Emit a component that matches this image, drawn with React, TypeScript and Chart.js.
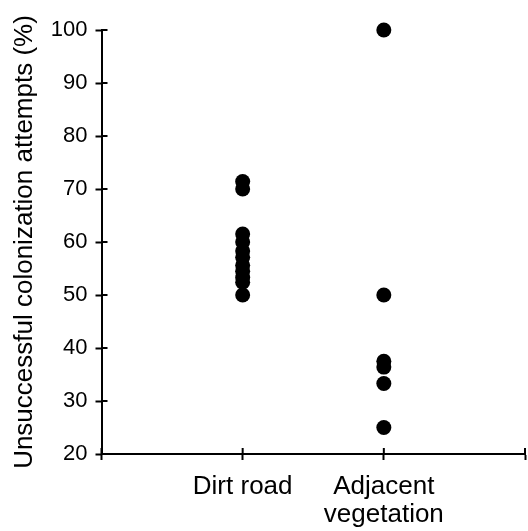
import React, { useEffect, useRef } from "react";
import { Chart, registerables } from "chart.js";

Chart.register(...registerables);

const categories: (string | string[])[] = ["", "Dirt road", ["Adjacent", "vegetation"], ""];
const dirtRoad = [71.4, 70, 61.5, 60, 58.3, 57.1, 55.6, 54.5, 53.3, 52.4, 50];
const adjacentVegetation = [100, 50, 37.5, 36.4, 33.3, 25];
const yTicks = [20, 30, 40, 50, 60, 70, 80, 90, 100];
const yTitle = "Unsuccessful colonization attempts (%)";

const FONT = "'Liberation Sans', Arial, Helvetica, sans-serif";

const innerTicks = {
  id: "innerTicks",
  afterDraw(chart: any) {
    const { ctx, chartArea, scales } = chart;
    ctx.save();
    ctx.strokeStyle = "#000";
    ctx.lineWidth = 2;
    ctx.beginPath();
    scales.y.ticks.forEach((t: any) => {
      const y = scales.y.getPixelForValue(t.value);
      ctx.moveTo(chartArea.left, y);
      ctx.lineTo(chartArea.left + 6, y);
    });
    scales.x.ticks.forEach((t: any) => {
      const x = scales.x.getPixelForValue(t.value);
      ctx.moveTo(x, chartArea.bottom);
      ctx.lineTo(x, chartArea.bottom - 6);
    });
    ctx.stroke();
    ctx.restore();
  },
};

export default function App() {
  const ref = useRef<HTMLCanvasElement | null>(null);
  useEffect(() => {
    if (!ref.current) return;
    const chart = new Chart(ref.current, {
      type: "scatter",
      data: {
        datasets: [
          {
            label: "Dirt road",
            data: dirtRoad.map((v) => ({ x: 1, y: v })),
            backgroundColor: "#000",
            borderWidth: 0,
            pointRadius: 7.5,
            clip: false,
          },
          {
            label: "Adjacent vegetation",
            data: adjacentVegetation.map((v) => ({ x: 2, y: v })),
            backgroundColor: "#000",
            borderWidth: 0,
            pointRadius: 7.5,
            clip: false,
          },
        ],
      },
      options: {
        responsive: false,
        devicePixelRatio: 1,
        animation: false,
        layout: { autoPadding: false, padding: { left: 0, top: 30, right: 3, bottom: 0 } },
        plugins: { legend: { display: false }, tooltip: { enabled: false } },
        scales: {
          x: {
            type: "linear",
            min: 0,
            max: categories.length - 1,
            afterFit: (s: any) => {
              s.height = 77;
              s.paddingRight = 0;
              s.paddingLeft = 0;
            },
            afterBuildTicks: (s: any) => {
              s.ticks = categories.map((_, i) => ({ value: i }));
            },
            ticks: {
              autoSkip: false,
              maxRotation: 0,
              padding: 12.5,
              color: "#000",
              font: { family: FONT, size: 26, lineHeight: 1.08 },
              callback: (v: any) => categories[Math.round(Number(v))] ?? "",
            },
            grid: {
              drawOnChartArea: false,
              drawTicks: true,
              tickLength: 6,
              tickColor: "#000",
              tickWidth: 2,
            },
            border: { display: true, color: "#000", width: 2 },
          },
          y: {
            min: yTicks[0],
            max: yTicks[yTicks.length - 1],
            afterFit: (s: any) => {
              s.width = 101.5;
            },
            afterBuildTicks: (s: any) => {
              s.ticks = yTicks.map((v) => ({ value: v }));
            },
            ticks: {
              padding: 8,
              color: "#000",
              font: { family: FONT, size: 22 },
            },
            grid: {
              drawOnChartArea: false,
              drawTicks: true,
              tickLength: 6,
              tickColor: "#000",
              tickWidth: 2,
            },
            border: { display: true, color: "#000", width: 2 },
            title: {
              display: true,
              text: yTitle,
              color: "#000",
              font: { family: FONT, size: 26 },
              padding: { top: 9, bottom: 0 },
            },
          },
        },
      },
      plugins: [innerTicks],
    });
    return () => chart.destroy();
  }, []);
  return (
    <canvas
      ref={ref}
      width={528}
      height={531}
      style={{ position: "fixed", left: 0, top: 0, width: 528, height: 531, background: "#fff" }}
    />
  );
}
